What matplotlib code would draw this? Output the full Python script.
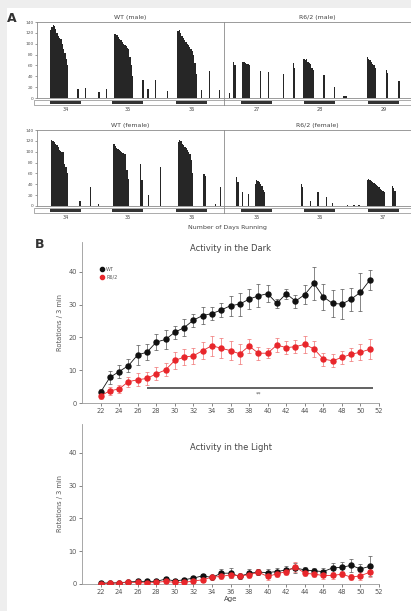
import matplotlib.pyplot as plt
import numpy as np
from matplotlib.lines import Line2D
from matplotlib.patches import Rectangle

W, H = 411, 611

# ---- panel A: actogram bouts, (start hour, bar heights per 0.5 h bin) ----
BIN = 0.5
wt_male = [(5.0, [125, 130, 135, 133, 128, 120, 115, 110, 108, 100, 90, 82, 72, 60]),
           (15.5, [17]), (18.3, [18]), (23.6, [11]), (26.4, [17]),
           (29.6, [117, 118, 116, 112, 108, 106, 104, 100, 97, 95, 92, 90, 75, 60, 40]),
           (40.6, [34]), (42.5, [17]), (45.3, [34]), (49.9, [13]),
           (54.1, [123, 125, 120, 115, 110, 106, 103, 100, 97, 94, 90, 86, 80, 65, 45]),
           (63.2, [15]), (66.1, [49]), (70.0, [15])]
r62_male = [(73.8, [9]), (75.5, [67, 60]), (79.0, [67, 66, 65, 63, 62, 60]),
            (85.8, [49]), (89.0, [47]), (94.6, [44]), (98.4, [65, 55]),
            (102.6, [72, 70, 72, 66, 64, 62, 55, 51]), (110.3, [42]), (114.2, [20]),
            (118.0, [3, 3, 3]), (127.0, [76, 72, 70, 67, 63, 60, 55]),
            (134.2, [52, 46]), (139.1, [31]), (143.9, [20])]
wt_female = [(5.4, [121, 119, 117, 114, 112, 108, 103, 101, 100, 99, 78, 72, 60]),
             (16.3, [9]), (20.4, [34]), (23.4, [3]),
             (29.4, [115, 110, 107, 105, 103, 101, 99, 98, 96, 95, 67, 50]),
             (39.7, [78, 48]), (42.6, [20]), (47.4, [72]),
             (54.2, [117, 121, 119, 115, 112, 109, 106, 103, 100, 95, 85, 60]),
             (64.0, [59, 56]), (68.5, [3]), (70.5, [34])]
r62_female = [(76.6, [53, 45]), (78.8, [25]), (81.1, [22]),
              (83.9, [40, 47, 46, 44, 40, 37, 30, 25]),
              (101.5, [40, 34]), (105.1, [9]), (107.9, [25]), (111.3, [16]), (113.5, [6]),
              (119.2, [2]), (121.8, [2]), (123.7, [2]),
              (127.0, [47, 50, 48, 46, 44, 42, 40, 38, 36, 34, 32, 30, 28, 26]),
              (136.6, [37, 33, 28])]
dark_starts = [5.0, 29.0, 53.5, 78.5, 102.8, 127.3]
male_days = ["34", "35", "36", "27", "28", "29"]
female_days = ["34", "35", "36", "35", "36", "37"]
act_ticks = [0, 20, 40, 60, 80, 100, 120, 140]

# ---- panel B ----
ages = [22, 23, 24, 25, 26, 27, 28, 29, 30, 31, 32, 33, 34, 35, 36,
        37, 38, 39, 40, 41, 42, 43, 44, 45, 46, 47, 48, 49, 50, 51]
wt_dark = [3.3, 7.8, 9.6, 11.4, 14.7, 15.5, 18.6, 19.4, 21.6, 23.0, 25.3, 26.7, 27.3, 28.4, 29.7,
           30.2, 31.7, 32.7, 33.4, 30.4, 33.4, 31.1, 33.1, 36.5, 32.4, 30.4, 30.2, 31.7, 33.8, 37.5]
wt_dark_err = [1.0, 2.0, 2.0, 2.0, 3.0, 2.5, 2.5, 3.0, 2.0, 2.5, 2.0, 2.5, 2.0, 2.0, 3.0,
               3.5, 3.0, 3.5, 2.5, 1.5, 1.5, 2.0, 3.0, 5.0, 4.0, 4.0, 4.5, 3.5, 5.8, 3.0]
r62_dark = [2.2, 3.7, 4.3, 6.5, 7.1, 7.5, 8.9, 10.1, 13.0, 14.0, 14.4, 16.0, 17.5, 16.7, 16.0,
            15.0, 17.4, 15.2, 15.2, 17.7, 16.9, 17.2, 17.9, 16.5, 13.4, 12.9, 13.9, 14.9, 15.5, 16.4]
r62_dark_err = [1.0, 1.2, 1.2, 1.5, 2.0, 2.0, 2.0, 2.0, 2.5, 2.5, 2.5, 2.5, 3.0, 3.0, 3.0,
                3.0, 2.0, 2.0, 1.5, 2.0, 2.0, 2.0, 2.5, 2.5, 2.0, 2.0, 2.0, 2.0, 2.5, 3.0]
wt_light = [0.3, 0.3, 0.4, 0.6, 0.8, 0.8, 0.8, 1.5, 0.9, 1.3, 1.8, 2.5, 2.0, 3.3, 3.3,
            2.3, 3.3, 3.6, 3.5, 3.8, 4.3, 4.9, 4.3, 4.0, 3.8, 4.9, 5.1, 5.7, 4.6, 5.4]
wt_light_err = [0.2, 0.2, 0.2, 0.3, 0.5, 0.5, 0.5, 0.5, 0.5, 0.5, 0.6, 0.6, 0.6, 1.2, 1.5,
                0.8, 1.2, 1.0, 1.2, 1.2, 1.2, 1.5, 1.0, 1.0, 1.0, 1.5, 1.5, 2.0, 1.5, 3.0]
r62_light = [0.1, 0.2, 0.3, 0.5, 0.5, 0.3, 0.5, 0.8, 0.5, 0.5, 0.9, 1.3, 2.1, 2.3, 2.8,
             2.5, 2.8, 3.6, 2.3, 3.1, 3.8, 5.2, 3.3, 3.0, 2.6, 2.6, 3.0, 2.1, 2.5, 3.6]
r62_light_err = [0.2, 0.2, 0.2, 0.3, 0.3, 0.3, 0.4, 0.4, 0.4, 0.4, 0.5, 0.6, 0.8, 0.8, 1.0,
                 0.8, 1.0, 1.0, 1.0, 1.0, 1.2, 1.5, 1.0, 1.0, 1.0, 1.0, 1.0, 1.0, 1.2, 1.5]
sig_span = (27, 51.3)
sig_y = 4.6

RED = "#e8262b"
GRID = "#8a8a8a"


def rect(left, top, right, bottom):
    return [left / W, 1 - bottom / H, (right - left) / W, (bottom - top) / H]


def actogram(ax, bouts, days, titles):
    xs, hs = [], []
    for start, heights in bouts:
        for i, h in enumerate(heights):
            xs.append(start + i * BIN)
            hs.append(h)
    ax.bar(xs, hs, width=BIN, align="edge", color="#262626", linewidth=0)
    ax.set_xlim(0, 144.4)
    ax.set_ylim(-14, 140)
    ax.axhline(0, color=GRID, lw=0.6)
    ax.axvline(72, color=GRID, lw=0.6)
    ax.add_patch(Rectangle((-1, -13), 146, 10, facecolor="white", edgecolor=GRID,
                           lw=0.5, clip_on=False))
    for s, d in zip(dark_starts, days):
        ax.add_patch(Rectangle((s, -11.5), 12, 6.5, facecolor="#333333", lw=0))
        ax.text(s + 6, -17, d, ha="center", va="top", fontsize=3.5, color="#444",
                clip_on=False)
    for x, t in zip([36, 108], titles):
        ax.text(x, 143, t, ha="center", va="bottom", fontsize=4.5, color="#444")
    for sp in ["right", "bottom"]:
        ax.spines[sp].set_visible(False)
    for sp in ["top", "left"]:
        ax.spines[sp].set_color(GRID)
        ax.spines[sp].set_linewidth(0.6)
    ax.spines["left"].set_bounds(0, 140)
    ax.set_xticks([])
    ax.set_yticks(act_ticks)
    ax.tick_params(axis="y", labelsize=3.2, length=1.5, width=0.4, pad=1,
                   colors="#555")


def age_panel(ax, wt, wt_err, r62, r62_err, title, title_y):
    ax.errorbar(ages, wt, yerr=wt_err, color="#111111", ecolor="#555555", lw=0.6,
                elinewidth=0.5, capsize=1.5, capthick=0.5, marker="o", markersize=3.6,
                zorder=3)
    ax.errorbar(ages, r62, yerr=r62_err, color=RED, ecolor="#f07070", lw=0.6,
                elinewidth=0.5, capsize=1.5, capthick=0.5, marker="o", markersize=3.6,
                zorder=3)
    ax.set_xlim(20, 52)
    ax.set_ylim(0, 49)
    ax.set_xticks(range(22, 53, 2))
    ax.set_yticks([0, 10, 20, 30, 40])
    ax.tick_params(labelsize=4.8, length=2, width=0.5, pad=1.5, colors="#555")
    for sp in ["right", "top"]:
        ax.spines[sp].set_visible(False)
    for sp in ["left", "bottom"]:
        ax.spines[sp].set_color("#999")
        ax.spines[sp].set_linewidth(0.6)
    ax.set_ylabel("Rotations / 3 min", fontsize=4.8, color="#555", labelpad=4)
    ax.text(0.5, title_y, title, transform=ax.transAxes, ha="center", va="center",
            fontsize=6, color="#444")


fig = plt.figure(figsize=(W / 100, H / 100), dpi=100, facecolor="#eeeeee")
fig.patches.append(Rectangle((7 / W, 0), 1, 1 - 8 / H, transform=fig.transFigure,
                             facecolor="white", lw=0, zorder=-10))

ax1 = fig.add_axes(rect(37, 22, 412, 105.6))
actogram(ax1, wt_male + r62_male, male_days, ["WT (male)", "R6/2 (male)"])
ax2 = fig.add_axes(rect(37, 130, 412, 213.5))
actogram(ax2, wt_female + r62_female, female_days, ["WT (female)", "R6/2 (female)"])
fig.text(227 / W, 1 - 227 / H, "Number of Days Running", ha="center", va="center",
         fontsize=4.5, color="#444")

ax3 = fig.add_axes(rect(82, 242.5, 379, 403))
age_panel(ax3, wt_dark, wt_dark_err, r62_dark, r62_dark_err, "Activity in the Dark", 0.96)
ax3.hlines(sig_y, sig_span[0], sig_span[1], color="#555", lw=1.3)
ax3.text(39, sig_y - 1.2, "**", ha="center", va="top", fontsize=4, color="#555")
handles = [Line2D([], [], marker="o", ls="", color="#111111", markersize=3),
           Line2D([], [], marker="o", ls="", color=RED, markersize=3)]
ax3.legend(handles, ["WT", "R6/2"], loc="upper left", bbox_to_anchor=(0.055, 0.86),
           frameon=False, fontsize=3.5, handlelength=0.8, handletextpad=0.4,
           labelspacing=0.5, borderaxespad=0, labelcolor="#555")

ax4 = fig.add_axes(rect(82, 423.5, 379, 584))
age_panel(ax4, wt_light, wt_light_err, r62_light, r62_light_err, "Activity in the Light", 0.85)
ax4.set_xlabel("Age", fontsize=5, color="#444", labelpad=1)

fig.text(12 / W, 1 - 18 / H, "A", ha="center", va="center", fontsize=9, weight="bold",
         color="#333")
fig.text(40 / W, 1 - 245 / H, "B", ha="center", va="center", fontsize=9, weight="bold",
         color="#333")

fig.savefig("out.png", dpi=100, facecolor=fig.get_facecolor())
